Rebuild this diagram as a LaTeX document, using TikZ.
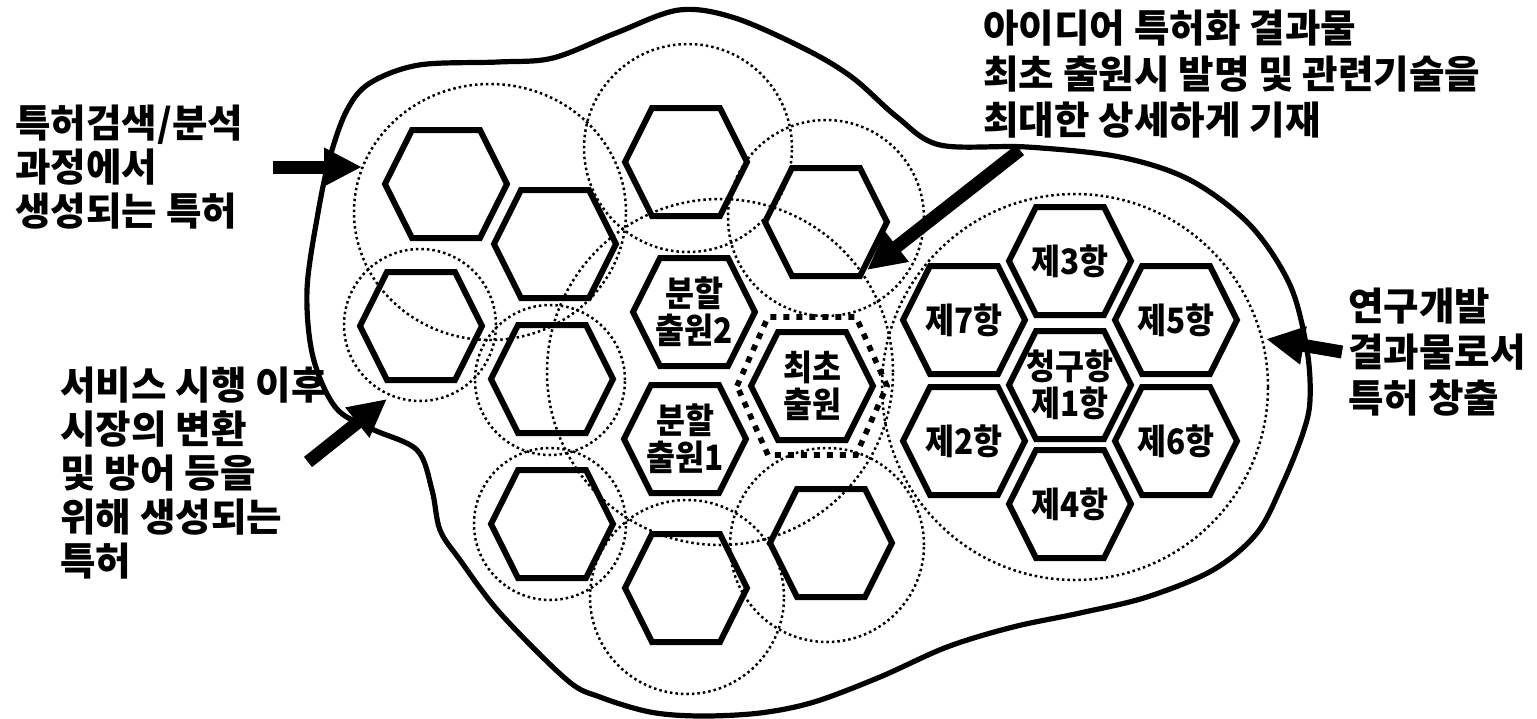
\documentclass[tikz,border=0pt]{standalone}
\usepackage{fontspec}
\setmainfont{Noto Sans CJK KR}
\newfontfamily\hexfont{Noto Sans CJK KR}[FakeStretch=0.9]
\usetikzlibrary{arrows.meta}
\newcommand{\myhex}[1]{\draw[hexline] ([shift={(-61,0)}]#1.center) -- ([shift={(-34,-54)}]#1.center) -- ([shift={(34,-54)}]#1.center) -- ([shift={(61,0)}]#1.center) -- ([shift={(34,54)}]#1.center) -- ([shift={(-34,54)}]#1.center) -- cycle;}
\begin{document}
\begin{tikzpicture}[x=0.5pt,y=-0.5pt,
  hexline/.style={line width=3pt, line join=miter},
  dotline/.style={line width=1.25pt, dash pattern=on 1.25pt off 1.5pt},
  thickdots/.style={line width=2.8pt, dash pattern=on 3pt off 3.5pt},
  blobline/.style={line width=2.6pt},
  bigarrow/.style={line width=6.5pt, -{Triangle[length=19pt,width=18pt]}},
  lbl/.style={font=\bfseries\fontsize{19.3pt}{22pt}\selectfont, align=left, inner sep=0pt, anchor=base west},
  hexlbl/.style={font=\hexfont\bfseries\fontsize{17.5pt}{18.5pt}\selectfont, align=center, inner sep=0pt}
]
\useasboundingbox (0,0) rectangle (1537,718);

% outline
\draw[blobline] plot[smooth cycle, tension=0.55] coordinates {
 (330,157) (347,110) (370,83) (419,65) (498,62) (553,58) (616,33) (679,10) (735,18)
 (807,50) (853,78) (897,117) (940,145) (1027,147) (1120,157) (1190,180) (1250,225)
 (1290,285) (1307,350) (1310,400) (1303,433) (1283,483) (1257,533) (1213,570)
 (1147,597) (1080,613) (1013,627) (947,647) (880,677) (814,702) (760,713) (700,716)
 (650,712) (600,697) (567,680) (500,613) (460,560) (440,530) (432,490) (417,450)
 (372,429) (336,408) (313,357) (307,290) (318,213)};

% dotted circles
\draw[dotline] (490,212) ellipse [x radius=68pt, y radius=64pt];
\draw[dotline] (688,148) circle [radius=52pt];
\draw[dotline] (826,218) circle [radius=49pt];
\draw[dotline] (420,325) circle [radius=38pt];
\draw[dotline] (550,380) circle [radius=37.5pt];
\draw[dotline] (550,524) circle [radius=38pt];
\draw[dotline] (687,597) circle [radius=48.5pt];
\draw[dotline] (827,545) circle [radius=48.5pt];
\draw[dotline] (720,372) circle [radius=86.5pt];
\draw[dotline] (1075,387) circle [radius=96.5pt];

% hexagon nodes
\node (h1) at (446,184) {};
\node (h2) at (555,244) {};
\node (h3) at (686,162) {};
\node (h4) at (826,222) {};
\node (h5) at (421,326) {};
\node (h6) at (552,379) {};
\node (h7) at (552,524) {};
\node (h8) at (686,588) {};
\node (h9) at (831,543) {};
\node[hexlbl] (s2) at (694,312) {분할\\출원2};
\node[hexlbl] (s1) at (685,439) {분할\\출원1};
\node[hexlbl] (first) at (812,386) {최초\\출원};
\node[hexlbl] (c3) at (1070,261) {제3항};
\node[hexlbl] (c7) at (964,320) {제7항};
\node[hexlbl] (c5) at (1176,320) {제5항};
\node[hexlbl] (c1) at (1070,385) {청구항\\제1항};
\node[hexlbl] (c2) at (964,441) {제2항};
\node[hexlbl] (c6) at (1176,441) {제6항};
\node[hexlbl] (c4) at (1070,504) {제4항};

\foreach \n in {h1,h2,h3,h4,h5,h6,h7,h8,h9,s2,s1,first,c3,c7,c5,c1,c2,c6,c4}{\myhex{\n}}

% thick dotted hexagon around the first filing
\draw[thickdots] ([shift={(-75,0)}]first.center) -- ([shift={(-44,-69)}]first.center) -- ([shift={(44,-69)}]first.center) -- ([shift={(75,0)}]first.center) -- ([shift={(44,69)}]first.center) -- ([shift={(-44,69)}]first.center) -- cycle;

% arrows
\coordinate (aA1) at (273,167); \coordinate (aA2) at (362,167);
\coordinate (aB1) at (308,462); \coordinate (aB2) at (387,399);
\coordinate (aC1) at (1020,150); \coordinate (aC2) at (867,270);
\coordinate (aD1) at (1342,352); \coordinate (aD2) at (1266,339);
\draw[bigarrow] (aA1) -- (aA2);
\draw[bigarrow] (aB1) -- (aB2);
\draw[bigarrow] (aC1) -- (aC2);
\draw[bigarrow] (aD1) -- (aD2);

% labels (anchored at the baseline of the last line)
\node[lbl] (tl) at (15,225) {특허검색/분석\\과정에서\\생성되는 특허};
\node[lbl] (bl) at (60,575) {서비스 시행 이후\\시장의 변환\\및 방어 등을\\위해 생성되는\\특허};
\node[lbl, font=\bfseries\fontsize{19.3pt}{23pt}\selectfont] (tr) at (983,134) {아이디어 특허화 결과물\\최초 출원시 발명 및 관련기술을\\최대한 상세하게 기재};
\node[lbl, font=\bfseries\fontsize{19.3pt}{23pt}\selectfont] (rt) at (1348,412) {연구개발\\결과물로서\\특허 창출};
\end{tikzpicture}
\end{document}
